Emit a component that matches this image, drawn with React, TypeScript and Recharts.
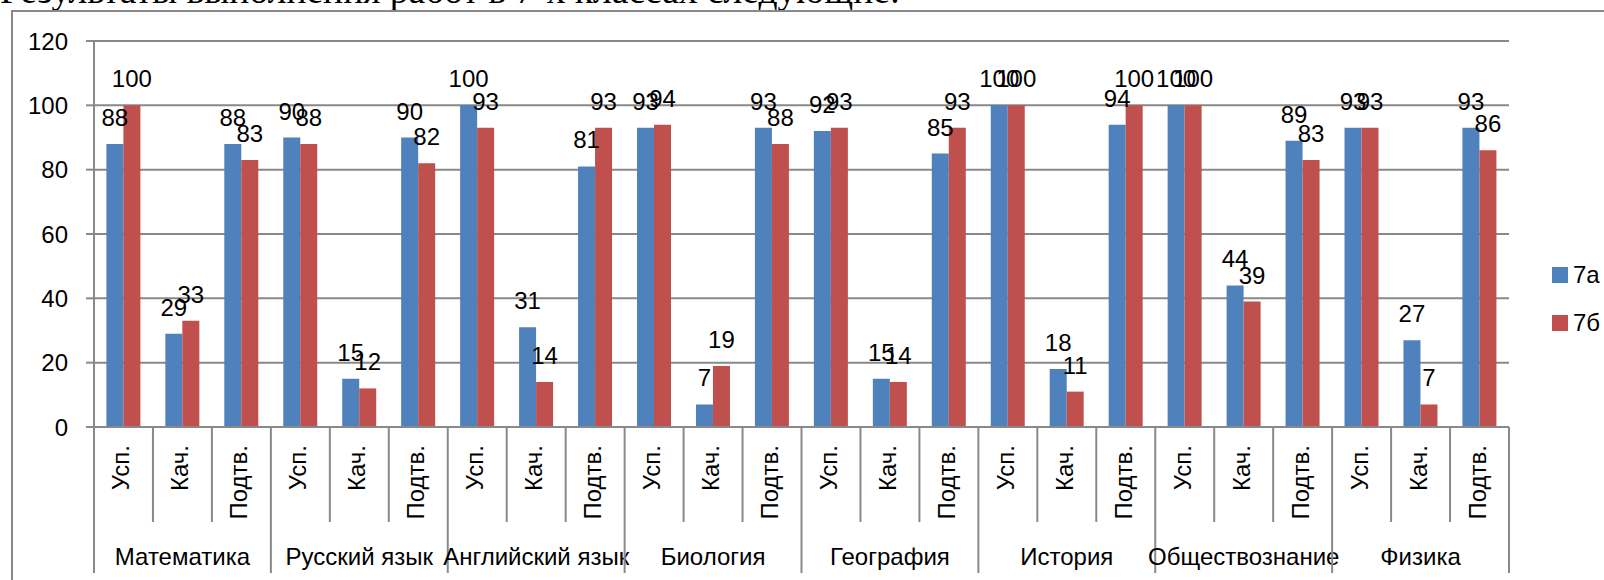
import { Bar, BarChart, CartesianGrid, LabelList, Legend, XAxis, YAxis } from 'recharts';

const subjects = [
	'Математика',
	'Русский язык',
	'Английский язык',
	'Биология',
	'География',
	'История',
	'Обществознание',
	'Физика',
];
const metrics = ['Усп.', 'Кач.', 'Подтв.'];

// по три значения на предмет: Усп., Кач., Подтв.
const values7a = [88, 29, 88, 90, 15, 90, 100, 31, 81, 93, 7, 93, 92, 15, 85, 100, 18, 94, 100, 44, 89, 93, 27, 93];
const values7b = [100, 33, 83, 88, 12, 82, 93, 14, 93, 94, 19, 88, 93, 14, 93, 100, 11, 100, 100, 39, 83, 93, 7, 86];

const yTicks = [0, 20, 40, 60, 80, 100, 120];

const data = values7a.map((v, i) => ({
	key: `${i}`,
	metric: metrics[i % metrics.length],
	subject: subjects[Math.floor(i / metrics.length)],
	a: v,
	b: values7b[i],
}));

const FONT = "'Liberation Sans', Arial, sans-serif";
const GRAY = '#898989';

function CategoryTick(props: any) {
	const { x, y, index, width, visibleTicksCount } = props;
	const count = visibleTicksCount || data.length;
	const band = (width || 1415) / count;
	const row = data[index];
	const isGroupStart = index % metrics.length === 0;
	const isLast = index === count - 1;
	return (
		<g>
			<line
				x1={x - band / 2}
				x2={x - band / 2}
				y1={y}
				y2={y + (isGroupStart ? 146 : 95)}
				stroke={GRAY}
				strokeWidth={2}
			/>
			{isLast && (
				<line x1={x + band / 2} x2={x + band / 2} y1={y} y2={y + 146} stroke={GRAY} strokeWidth={2} />
			)}
			<text
				x={x}
				y={y + 18}
				dy='0.25em'
				textAnchor='end'
				transform={`rotate(-90, ${x}, ${y + 18})`}
				fill='#000'
				fontSize={24}
				fontFamily={FONT}
			>
				{row.metric}
			</text>
			{index % metrics.length === 1 && (
				<text x={x} y={y + 138} textAnchor='middle' fill='#000' fontSize={24} fontFamily={FONT}>
					{row.subject}
				</text>
			)}
		</g>
	);
}

function LegendContent({ payload }: any) {
	return (
		<div style={{ fontFamily: FONT, fontSize: 24, color: '#000' }}>
			{(payload || []).map((p: any) => (
				<div key={p.value} style={{ display: 'flex', alignItems: 'center', height: 48 }}>
					<span style={{ width: 16, height: 16, background: p.color, marginRight: 5 }} />
					<span>{p.value}</span>
				</div>
			))}
		</div>
	);
}

export default function App() {
	return (
		<div
			style={{
				position: 'absolute',
				left: 0,
				top: 0,
				width: 1604,
				height: 580,
				overflow: 'hidden',
				background: '#fff',
			}}
		>
			<svg width={1604} height={20} style={{ position: 'absolute', left: 0, top: 0 }}>
				<text x={0} y={3} fontFamily="'Liberation Serif', 'Times New Roman', serif" fontSize={37.5} fill='#000'>
					Результаты выполнения работ в 7-х классах следующие:
				</text>
			</svg>
			<div
				style={{
					position: 'absolute',
					left: 11,
					top: 10,
					width: 2000,
					height: 2000,
					borderLeft: `2px solid ${GRAY}`,
					borderTop: `2px solid ${GRAY}`,
				}}
			/>
			<div style={{ position: 'absolute', left: 0, top: 0 }}>
				<BarChart
					width={1604}
					height={580}
					data={data}
					margin={{ top: 41, right: 95, bottom: 0, left: 0 }}
					barCategoryGap='21%'
					barGap={0}
				>
					<CartesianGrid vertical={false} stroke={GRAY} strokeWidth={2} />
					<XAxis
						dataKey='key'
						height={153}
						interval={0}
						tickSize={0}
						tickMargin={0}
						tickLine={false}
						axisLine={{ stroke: GRAY, strokeWidth: 2 }}
						tick={<CategoryTick />}
					/>
					<YAxis
						width={94}
						domain={[0, 120]}
						ticks={yTicks}
						tickSize={8}
						tickMargin={18}
						axisLine={{ stroke: GRAY, strokeWidth: 2 }}
						tickLine={{ stroke: GRAY, strokeWidth: 2 }}
						tick={{ fill: '#000', fontSize: 24, fontFamily: FONT }}
					/>
					<Legend
						layout='vertical'
						align='center'
						verticalAlign='middle'
						wrapperStyle={{ left: 1552, top: 251, width: 60 }}
						content={<LegendContent />}
					/>
					<Bar dataKey='a' name='7а' fill='#4F81BD' isAnimationActive={false}>
						<LabelList dataKey='a' position='top' offset={18} fill='#000' fontSize={24} fontFamily={FONT} />
					</Bar>
					<Bar dataKey='b' name='7б' fill='#C0504D' isAnimationActive={false}>
						<LabelList dataKey='b' position='top' offset={18} fill='#000' fontSize={24} fontFamily={FONT} />
					</Bar>
				</BarChart>
			</div>
		</div>
	);
}
